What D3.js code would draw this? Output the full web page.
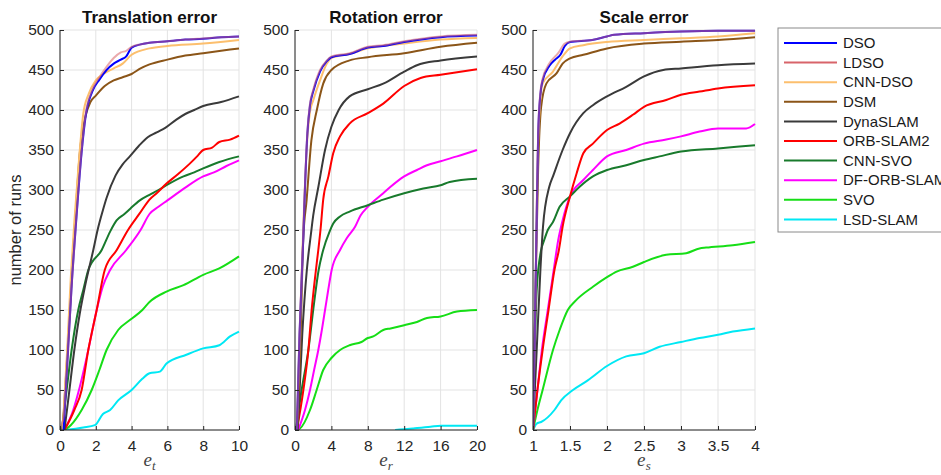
<!DOCTYPE html>
<html>
<head>
<meta charset="utf-8">
<script src="https://cdn.jsdelivr.net/npm/d3@7"></script>
<style>
  body { margin: 0; background: #fff; }
  svg { font-family: "Liberation Sans", Arial, sans-serif; }
  .grid line { stroke: #e3e3e3; stroke-width: 1; }
  .axis path, .axis line { stroke: #262626; }
  .axis text { fill: #262626; font-size: 15.5px; }
</style>
</head>
<body>
<svg id="chart" width="941" height="475"></svg>
<script>
// legend order
var names = ["DSO", "LDSO", "CNN-DSO", "DSM", "DynaSLAM", "ORB-SLAM2", "CNN-SVO", "DF-ORB-SLAM", "SVO", "LSD-SLAM"];
var colors = ["#0000ff", "#d8646a", "#fcbf6e", "#8b5518", "#3a3a3a", "#ff0000", "#187a2c", "#ff00ff", "#16de16", "#00e8f4"];

var yTicks = [0, 50, 100, 150, 200, 250, 300, 350, 400, 450, 500];
var transTicks = [0, 2, 4, 6, 8, 10];
var rotTicks = [0, 4, 8, 12, 16, 20];
var scaleTicks = [1, 1.5, 2, 2.5, 3, 3.5, 4];

// translation error, one array per method (same order as names)
var transData = [
  [[0.2,0],[0.45,100],[0.65,180],[0.9,260],[1.0,290],[1.2,345],[1.45,395],[1.8,423],[2.2,438],[2.6,450],[3.0,458],[3.4,463],[3.7,467],[4.0,478],[4.5,482],[5,484],[6,486],[7,488],[8,489],[9,491],[10,492]],
  [[0,0],[0.1,8],[0.2,15],[0.45,100],[0.65,180],[0.9,262],[1.0,292],[1.2,347],[1.45,397],[1.8,425],[2.2,441],[2.6,454],[3.0,465],[3.4,472],[3.7,474],[4.0,479],[4.5,482],[5,484],[6,486],[7,488],[8,489.5],[9,491],[10,492]],
  [[0.15,0],[0.4,100],[0.6,190],[0.8,260],[1.0,320],[1.3,395],[1.6,420],[2.0,437],[2.5,446],[3.0,452],[3.5,458],[4.0,469],[5.0,477],[6,480],[8,483],[10,487.5]],
  [[0.15,0],[0.45,110],[0.75,230],[0.9,280],[1.1,345],[1.4,390],[1.7,410],[2.0,418],[2.5,430],[3.0,437],[3.5,441],[4,445],[4.5,452],[5,457],[6,463],[7,468],[8,471],[9,474],[10,477]],
  [[0.25,0],[0.5,45],[0.8,100],[1.1,145],[1.4,180],[1.86,225],[2.1,250],[2.4,275],[2.6,290],[3.1,318],[3.5,332],[3.9,342],[4.4,355],[4.9,366],[5.4,372],[5.9,378],[6.5,388],[7,395],[7.5,400],[8,405],[9,410],[10,417]],
  [[0.25,0],[0.8,25],[1.21,50],[1.58,100],[2.05,150],[2.5,200],[3.17,225],[3.8,250],[4.46,271],[5.0,288],[5.4,296],[5.95,308],[6.6,320],[7.25,333],[7.7,343],[8.0,350],[8.5,353],[8.9,360],[9.5,363],[10,368]],
  [[0.1,0],[0.37,50],[0.65,100],[1.02,150],[1.3,175],[1.58,200],[2.33,225],[2.8,248],[3.16,262],[3.6,270],[3.94,277],[4.46,287],[5.0,294],[5.5,300],[5.95,306],[6.9,317],[7.5,322],[8.0,327],[8.9,335],[10,342]],
  [[0.25,0],[0.74,25],[1.06,50],[1.58,100],[2.05,150],[2.4,180],[2.8,200],[3.7,225],[4.5,250],[5.0,270],[5.5,279],[6,287],[7,303],[8,317],[8.6,322],[9.3,330],[10,337]],
  [[0.25,0],[0.6,6],[1.21,25],[1.77,50],[2.2,75],[2.6,100],[3.25,125],[3.94,138],[4.6,150],[5.0,160],[5.95,173],[6.9,181],[8.0,194],[8.9,202],[10,217]],
  [[0.3,0],[1.3,3],[1.95,6],[2.4,20],[2.8,25],[3.25,37],[4.0,50],[4.6,64],[5.0,71],[5.58,73],[5.95,83],[7.06,94],[8.0,102],[8.9,106],[9.5,117],[10,123]]
];

// rotation error
var rotData = [
  [[0.2,0],[0.5,120],[0.9,237],[1.1,304],[1.36,371],[1.65,406],[2.0,423],[2.75,448],[3.5,461],[4,466],[6,470],[8,478],[9.7,480],[12,485],[16,491],[20,493]],
  [[0.2,0],[0.5,122],[0.9,240],[1.1,306],[1.36,373],[1.65,408],[2.0,425],[2.75,450],[3.5,462],[4,467],[6,471],[8,479],[9.7,481],[12,486],[16,492],[20,494]],
  [[0.2,0],[0.55,130],[0.9,250],[1.36,365],[1.65,398],[2.0,412],[2.75,437],[3.5,458],[4,465],[6,470],[8,477],[12,483],[16,488],[20,490]],
  [[0.25,0],[0.6,110],[0.9,237],[1.28,288],[1.8,362],[2.4,400],[3.1,433],[4,450],[6,462],[8,466],[12,471],[16,479],[20,484]],
  [[0.3,0],[0.8,120],[1.3,200],[1.75,245],[2.0,268],[2.57,304],[3.3,350],[4,379],[4.8,400],[6,417],[8,426],[9.7,433],[12,448],[13.4,456],[16,462],[20,467]],
  [[0.2,0],[0.92,50],[1.47,100],[1.83,150],[2.3,200],[2.56,225],[2.8,250],[3.1,288],[3.67,317],[4.2,346],[4.95,367],[6,383],[8,396],[9.7,408],[12,430],[13.8,440],[16,444],[20,451]],
  [[0.1,0],[0.73,50],[1.47,100],[2.0,150],[2.6,200],[3.1,225],[3.8,248],[4.2,258],[4.95,267],[6,273],[8,281],[9.7,288],[12,296],[14.1,302],[16,306],[17,310],[20,314]],
  [[0.35,0],[1.1,25],[1.65,50],[2.1,75],[2.56,100],[2.95,125],[3.3,150],[3.65,175],[4.03,200],[4.95,225],[5.7,240],[6.6,254],[7.2,268],[8,279],[9.7,296],[10.5,304],[12,317],[13.4,325],[14.5,331],[16,336],[17.8,342],[20,350]],
  [[0,0],[0.55,2],[1.65,25],[2.38,50],[3.1,75],[4,90],[4.95,100],[6,106],[7.3,110],[8,115],[8.6,117],[9.7,125],[10.5,127],[12,131],[13.4,135],[14.5,140],[16,142],[17.8,148],[20,150]],
  [[11,0],[12,1],[13,2],[14.9,4],[16,5.4],[20,5.4]]
];

// scale error
var scaleData = [
  [[1.0,0],[1.02,100],[1.045,237],[1.07,371],[1.1,420],[1.13,437],[1.22,455],[1.3,463],[1.37,469],[1.43,480],[1.5,485],[1.8,487.5],[2,492],[2.1,494],[2.5,496],[3,498],[3.5,499],[4,499]],
  [[1.0,0],[1.02,102],[1.045,240],[1.07,373],[1.1,422],[1.13,439],[1.22,458],[1.34,471],[1.43,483],[1.5,485.4],[1.8,487.5],[2,492],[2.1,494],[2.5,496],[3,498],[3.5,499],[4,499]],
  [[1.0,0],[1.03,150],[1.07,362],[1.13,433],[1.27,448],[1.4,467],[1.5,477],[1.68,481],[2,485],[2.5,487.5],[3,489.6],[3.5,492],[4,496]],
  [[1.0,0],[1.04,200],[1.07,329],[1.11,404],[1.18,433],[1.32,446],[1.4,458],[1.5,464.6],[1.68,469],[2,477],[2.5,483],[3,485.4],[3.5,487.5],[4,491]],
  [[1.0,0],[1.05,100],[1.1,200],[1.135,254],[1.22,304],[1.27,317],[1.4,350],[1.5,371],[1.68,396],[1.81,406],[2,417],[2.26,429],[2.5,442],[2.76,450],[3,452],[3.5,456],[4,458]],
  [[1.0,0],[1.06,50],[1.13,100],[1.21,150],[1.29,200],[1.35,225],[1.4,254],[1.5,292],[1.59,321],[1.68,346],[1.81,358],[2,375],[2.17,383],[2.35,394],[2.5,404],[2.8,412.5],[3,419],[3.25,423],[3.5,427],[4,431]],
  [[1.0,0],[1.05,175],[1.11,225],[1.15,237],[1.2,250],[1.27,260],[1.36,279],[1.5,292],[1.63,304],[1.81,317],[2,325],[2.26,331],[2.5,337.5],[2.71,342],[3,348],[3.5,352],[4,356]],
  [[1.0,0],[1.06,50],[1.12,100],[1.2,150],[1.28,200],[1.34,237],[1.4,262],[1.5,292],[1.68,312.5],[1.81,325],[2,342],[2.26,350],[2.5,358],[2.8,363],[3,367],[3.25,373],[3.5,377],[3.88,377],[4,382.5]],
  [[1.0,0],[1.06,25],[1.13,50],[1.27,100],[1.36,125],[1.47,150],[1.58,162],[1.81,179],[2,191],[2.13,198],[2.35,204],[2.5,210],[2.8,219],[3.07,221],[3.25,227],[3.34,228],[3.7,231],[4,235]],
  [[1.0,0],[1.05,8],[1.11,10],[1.29,25],[1.38,37],[1.54,50],[1.74,62],[2,80],[2.26,92],[2.5,96],[2.71,104],[3,110],[3.25,115],[3.5,119],[3.7,123],[4,127]]
];

var panels = [
  {title: "Translation error", data: transData, ticks: transTicks, domain: [0, 10], left: 60, right: 239, sub: "t"},
  {title: "Rotation error", data: rotData, ticks: rotTicks, domain: [0, 20], left: 295, right: 477, sub: "r"},
  {title: "Scale error", data: scaleData, ticks: scaleTicks, domain: [1, 4], left: 533, right: 755, sub: "s"}
];

var plotTop = 30, plotBottom = 430;
var svg = d3.select("#chart");

var y = d3.scaleLinear().domain([0, 500]).range([plotBottom, plotTop]);

panels.forEach(function(p, i) {
  var x = d3.scaleLinear().domain(p.domain).range([p.left, p.right]);
  var g = svg.append("g");

  // grid
  var grid = g.append("g").attr("class", "grid");
  grid.selectAll(".gx").data(p.ticks).enter().append("line")
    .attr("x1", function(d) { return x(d); }).attr("x2", function(d) { return x(d); })
    .attr("y1", plotTop).attr("y2", plotBottom);
  grid.selectAll(".gy").data(yTicks).enter().append("line")
    .attr("y1", function(d) { return y(d); }).attr("y2", function(d) { return y(d); })
    .attr("x1", p.left).attr("x2", p.right);

  // lines
  g.append("clipPath").attr("id", "clip" + i)
    .append("rect").attr("x", p.left).attr("y", plotTop - 2).attr("width", p.right - p.left + 2).attr("height", plotBottom - plotTop + 2);

  var line = d3.line()
    .x(function(d) { return x(d[0]); })
    .y(function(d) { return y(d[1]); })
    .curve(d3.curveMonotoneX);

  var order = [9, 8, 7, 6, 5, 4, 3, 2, 0, 1];
  g.append("g").attr("clip-path", "url(#clip" + i + ")")
    .selectAll("path").data(order).enter().append("path")
    .attr("d", function(k) { return line(p.data[k]); })
    .attr("fill", "none")
    .attr("stroke", function(k) { return colors[k]; })
    .attr("stroke-opacity", function(k) { return k == 1 ? 0.55 : 1; })
    .attr("stroke-width", 2);

  // axes
  g.append("g").attr("class", "axis")
    .attr("transform", "translate(0," + plotBottom + ")")
    .call(d3.axisBottom(x).tickValues(p.ticks).tickSize(-4).tickPadding(10).tickFormat(d3.format("")))
    .call(function(a) { a.select(".domain").attr("d", "M" + p.left + ",0H" + p.right); });
  g.append("g").attr("class", "axis")
    .attr("transform", "translate(" + p.left + ",0)")
    .call(d3.axisLeft(y).tickValues(yTicks).tickSize(-4).tickPadding(6))
    .call(function(a) { a.select(".domain").attr("d", "M0," + plotTop + "V" + plotBottom); });

  // title
  svg.append("text")
    .attr("x", (p.left + p.right) / 2).attr("y", 23)
    .attr("text-anchor", "middle")
    .style("font-size", "17px").style("font-weight", "bold").attr("fill", "#111")
    .text(p.title);

  // x label e_sub
  var lbl = svg.append("text")
    .attr("x", (p.left + p.right) / 2).attr("y", 466)
    .attr("text-anchor", "middle")
    .style("font-family", "'Liberation Serif', 'Times New Roman', serif")
    .style("font-style", "italic").style("font-size", "19px").attr("fill", "#444");
  lbl.append("tspan").text("e");
  if (p.sub == "s") {
    lbl.append("tspan").attr("dy", -10).attr("dx", 1).style("font-size", "11px").text("'");
    lbl.append("tspan").attr("dy", 14).attr("dx", -3).style("font-size", "13px").text("s");
  } else {
    lbl.append("tspan").attr("dy", 4).style("font-size", "13px").text(p.sub);
  }
});

// y label
svg.append("text")
  .attr("transform", "translate(21," + (plotTop + plotBottom) / 2 + ") rotate(-90)")
  .attr("text-anchor", "middle")
  .style("font-size", "16.5px").attr("fill", "#262626")
  .text("number of runs");

// legend
var lg = svg.append("g").attr("transform", "translate(778,28)");
lg.append("rect").attr("width", 200).attr("height", 204)
  .attr("fill", "#fff").attr("stroke", "#8a8a8a").attr("stroke-width", 1);
names.forEach(function(n, i) {
  var yy = 15 + i * 19.6;
  lg.append("line").attr("x1", 6).attr("x2", 59).attr("y1", yy).attr("y2", yy)
    .attr("stroke", colors[i]).attr("stroke-width", 2);
  lg.append("text").attr("x", 65).attr("y", yy).attr("dy", "0.35em")
    .style("font-size", "15px").attr("fill", "#1a1a1a").text(n);
});
</script>
</body>
</html>
